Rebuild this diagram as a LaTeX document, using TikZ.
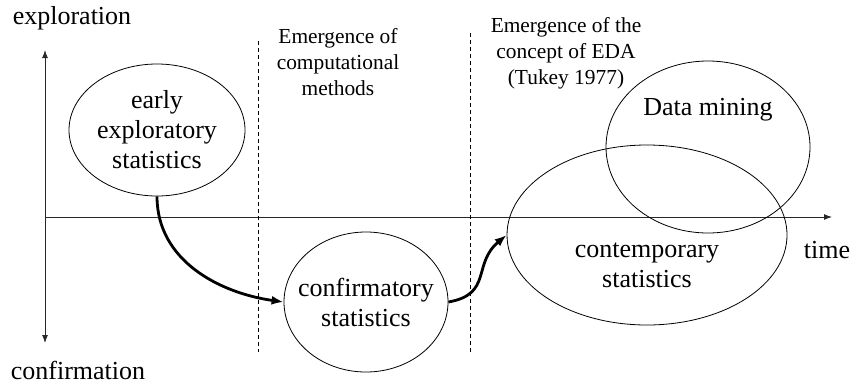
\documentclass[tikz,border=0pt]{standalone}
\usepackage{fontspec}
\setmainfont{Liberation Serif}
\usetikzlibrary{arrows.meta,shapes.geometric}
\definecolor{axisgray}{RGB}{40,40,40}

\newcommand{\bigtxt}{\fontsize{13}{15}\selectfont}
\newcommand{\smalltxt}{\fontsize{10.7}{13}\selectfont}

\begin{document}
\begin{tikzpicture}[x=0.5pt, y=-0.5pt,
    era/.style={ellipse, draw, thin, inner sep=0pt},
    eratext/.style={align=center, font=\bigtxt},
    note/.style={align=center, font=\smalltxt},
    flow/.style={-{Latex[length=6pt,width=4.5pt]}, line width=1.4pt}]
    \useasboundingbox (0,0) rectangle (854,391);

    % axes
    \coordinate (yTop) at (45,50);
    \coordinate (yBot) at (45,343);
    \coordinate (xLeft) at (45,217);
    \coordinate (xRight) at (832,217);
    \draw[{Latex[length=4pt,width=3pt]}-{Latex[length=4pt,width=3pt]}, axisgray, line width=0.5pt] (yTop)--(yBot);
    \draw[-{Latex[length=4pt,width=3pt]}, axisgray, line width=0.5pt] (xLeft)--(xRight);
    \node[font=\bigtxt] (explo) at (72,18) {exploration};
    \node[font=\bigtxt] (confi) at (78,370) {confirmation};
    \node[font=\bigtxt] (time) at (827,250) {time};

    % periods
    \draw[dash pattern=on 2pt off 1.5pt, line width=0.5pt] (258,41)--(258,352);
    \draw[dash pattern=on 2pt off 1.5pt, line width=0.5pt] (470,33)--(470,352);
    \node[note] (compu) at (338,62) {Emergence of\\computational\\methods};
    \node[note] (eda) at (566,53) {Emergence of the\\concept of EDA\\(Tukey 1977)};

    % eras
    \node[era, minimum width=88pt, minimum height=66pt] (early) at (157,130) {};
    \node[eratext] at (early) {early\\exploratory\\statistics};
    \node[era, minimum width=82pt, minimum height=70pt] (conf) at (366,302) {};
    \node[eratext] at (conf) {confirmatory\\statistics};
    \node[era, minimum width=140pt, minimum height=90pt] (contemp) at (647,235) {};
    \node[eratext] at (647,265) {contemporary\\statistics};
    \node[era, minimum width=102pt, minimum height=86pt] (mining) at (708,147) {};
    \node[eratext] at (708,110) {Data mining};

    \draw[flow] (early.south) to[out=-90, in=172] (conf.west);
    \draw[flow] (conf.east) to[out=10, in=-140, looseness=1.3] (contemp.west);
  \end{tikzpicture}
\end{document}
